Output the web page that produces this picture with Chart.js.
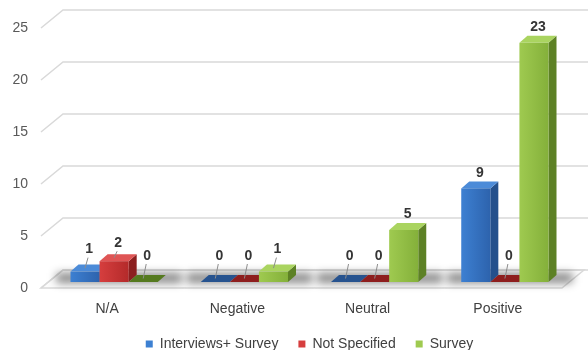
<!DOCTYPE html>
<html>
<head>
<meta charset="utf-8">
<script src="https://cdn.jsdelivr.net/npm/chart.js@4/dist/chart.umd.min.js"></script>
<style>
  html, body { margin: 0; padding: 0; background: #ffffff; }
  #wrap { width: 588px; height: 350px; position: relative; }
</style>
</head>
<body>
<div id="wrap"><canvas id="chart"></canvas></div>
<script>
// Sentiment counts per source
const categories = ['N/A', 'Negative', 'Neutral', 'Positive'];
const seriesNames = ['Interviews+ Survey', 'Not Specified', 'Survey'];
const interviewsSurvey = [1, 0, 0, 9];
const notSpecified = [2, 0, 0, 0];
const survey = [0, 1, 5, 23];
const yTicks = [0, 5, 10, 15, 20, 25];

// Face colours for each series: front gradient, top, side, flat (zero height)
const palettes = [
  { light: '#3d80d2', dark: '#2d63ad', top: '#4c8bd8', side: '#24508c', flat: '#27538f' },
  { light: '#d63e3e', dark: '#b42a2a', top: '#df5555', side: '#8c1f1f', flat: '#8e1e1e' },
  { light: '#9fca50', dark: '#84b03a', top: '#aad460', side: '#5d8125', flat: '#557a1f' }
];

// Oblique projection offsets (pixels)
const DEPTH = { dx: 8, dy: -7 };   // depth of each bar
const FRONT = { dx: -8, dy: 6 };   // front edge of the floor
const BACK = { dx: 14, dy: -12 };  // back wall

const FONT = '"Liberation Sans", Arial, sans-serif';

function faceGeometry(el) {
  const p = el.getProps(['x', 'y', 'base', 'width'], true);
  const l = p.x - p.width / 2;
  const r = p.x + p.width / 2;
  const top = Math.min(p.y, p.base);
  return { x: p.x, l, r, top, base: p.base, h: p.base - top, width: p.width };
}

function poly(ctx, pts) {
  ctx.beginPath();
  ctx.moveTo(pts[0][0], pts[0][1]);
  for (let i = 1; i < pts.length; i++) ctx.lineTo(pts[i][0], pts[i][1]);
  ctx.closePath();
}

const threeD = {
  id: 'threeD',
  afterInit(chart) {
    // keep the legend compact while using wide spacing between items
    const lg = chart.legend;
    if (lg) {
      const fit = lg.fit.bind(lg);
      lg.fit = function () { fit(); this.height = 33; };
    }
  },
  beforeDatasetsDraw(chart) {
    const ctx = chart.ctx;
    const area = chart.chartArea;
    const ys = chart.scales.y;
    const W = chart.width;

    ctx.save();
    // floor
    const y0 = ys.getPixelForValue(0);
    poly(ctx, [
      [area.left + FRONT.dx, y0 + FRONT.dy],
      [area.right + FRONT.dx, y0 + FRONT.dy],
      [area.right + BACK.dx, y0 + BACK.dy],
      [area.left + BACK.dx, y0 + BACK.dy]
    ]);
    ctx.fillStyle = '#fcfcfc';
    ctx.fill();
    ctx.strokeStyle = '#d9d9d9';
    ctx.lineWidth = 1.5;
    ctx.stroke();

    // back-wall gridlines with their side-wall connectors
    ctx.strokeStyle = '#d9d9d9';
    ctx.lineWidth = 1.5;
    ys.ticks.forEach(t => {
      const yp = ys.getPixelForValue(t.value);
      ctx.beginPath();
      ctx.moveTo(area.left + FRONT.dx, yp + FRONT.dy);
      ctx.lineTo(area.left + BACK.dx, yp + BACK.dy);
      ctx.lineTo(W, yp + BACK.dy);
      ctx.stroke();
    });

    // soft shadows on the floor beneath each group
    const metas = chart.getSortedVisibleDatasetMetas().slice().sort((a, b) => a.index - b.index);
    ctx.save();
    ctx.filter = 'blur(4px)';
    ctx.fillStyle = 'rgba(0,0,0,0.45)';
    categories.forEach((c, i) => {
      const first = faceGeometry(metas[0].data[i]);
      const last = faceGeometry(metas[metas.length - 1].data[i]);
      ctx.fillRect(first.l - 14, first.base - 9, (last.r + DEPTH.dx + 16) - (first.l - 14), 10);
    });
    ctx.restore();

    // bars: left to right so each front face covers its neighbour's side
    categories.forEach((c, i) => {
      metas.forEach(meta => {
        const pal = palettes[meta.index];
        const g = faceGeometry(meta.data[i]);
        const dx = DEPTH.dx, dy = DEPTH.dy;
        if (g.h > 0.5) {
          ctx.fillStyle = pal.side;
          poly(ctx, [[g.r, g.top], [g.r + dx, g.top + dy], [g.r + dx, g.base + dy], [g.r, g.base]]);
          ctx.fill();
        }
        ctx.fillStyle = g.h > 0.5 ? pal.top : pal.flat;
        poly(ctx, [[g.l, g.top], [g.l + dx, g.top + dy], [g.r + dx, g.top + dy], [g.r, g.top]]);
        ctx.fill();
        if (g.h > 0.5) {
          const grad = ctx.createLinearGradient(g.l, 0, g.r, 0);
          grad.addColorStop(0, pal.light);
          grad.addColorStop(1, pal.dark);
          ctx.fillStyle = grad;
          ctx.fillRect(g.l, g.top, g.width, g.h);
        }
      });
    });
    ctx.restore();
    return false;
  },
  afterDraw(chart) {
    const ctx = chart.ctx;
    ctx.save();
    ctx.font = 'bold 14px ' + FONT;
    ctx.fillStyle = '#353535';
    ctx.textAlign = 'center';
    ctx.textBaseline = 'middle';
    chart.getSortedVisibleDatasetMetas().forEach(meta => {
      const values = chart.data.datasets[meta.index].data;
      meta.data.forEach((el, i) => {
        const v = values[i];
        const g = faceGeometry(el);
        const lx = g.x + DEPTH.dx / 2;
        const topBack = g.top + DEPTH.dy;
        const lift = Math.max(8.5, 19 - 4 * v);
        const ly = topBack - lift;
        if (lift > 9) {
          ctx.strokeStyle = '#8c8c8c';
          ctx.lineWidth = 1;
          ctx.beginPath();
          ctx.moveTo(lx - 1, ly + 8);
          ctx.lineTo(lx - 4, topBack + 3.5);
          ctx.stroke();
        }
        ctx.fillText(String(v), lx, ly);
      });
    });
    ctx.restore();
  }
};

const seriesValues = [interviewsSurvey, notSpecified, survey];

new Chart(document.getElementById('chart'), {
  type: 'bar',
  data: {
    labels: categories,
    datasets: seriesNames.map((name, k) => ({
      label: name,
      data: seriesValues[k],
      backgroundColor: palettes[k].light,
      borderWidth: 0,
      categoryPercentage: 0.67,
      barPercentage: 1.0
    }))
  },
  options: {
    responsive: true,
    maintainAspectRatio: false,
    animation: false,
    devicePixelRatio: 1,
    layout: { padding: { left: 0, right: 18, top: 22, bottom: 0 } },
    scales: {
      x: {
        grid: { display: false, drawTicks: false },
        border: { display: false },
        ticks: { padding: 19, labelOffset: -7, color: '#404040', font: { family: FONT, size: 14 } },
        afterFit(s) { s.height = 35; s.paddingLeft = 0; s.paddingRight = 0; }
      },
      y: {
        min: 0,
        max: 25,
        afterBuildTicks(s) { s.ticks = yTicks.map(v => ({ value: v })); },
        grid: { display: false, drawTicks: false },
        border: { display: false },
        ticks: { padding: 21, labelOffset: 6, color: '#595959', font: { family: FONT, size: 14 } },
        afterFit(s) { s.width = 49; s.paddingTop = 0; s.paddingBottom = 0; }
      }
    },
    plugins: {
      legend: {
        position: 'bottom',
        fullSize: false,
        labels: {
          boxWidth: 7,
          boxHeight: 7,
          padding: 20,
          color: '#404040',
          font: { family: FONT, size: 14 }
        }
      },
      tooltip: { enabled: false }
    }
  },
  plugins: [threeD]
});
</script>
</body>
</html>
